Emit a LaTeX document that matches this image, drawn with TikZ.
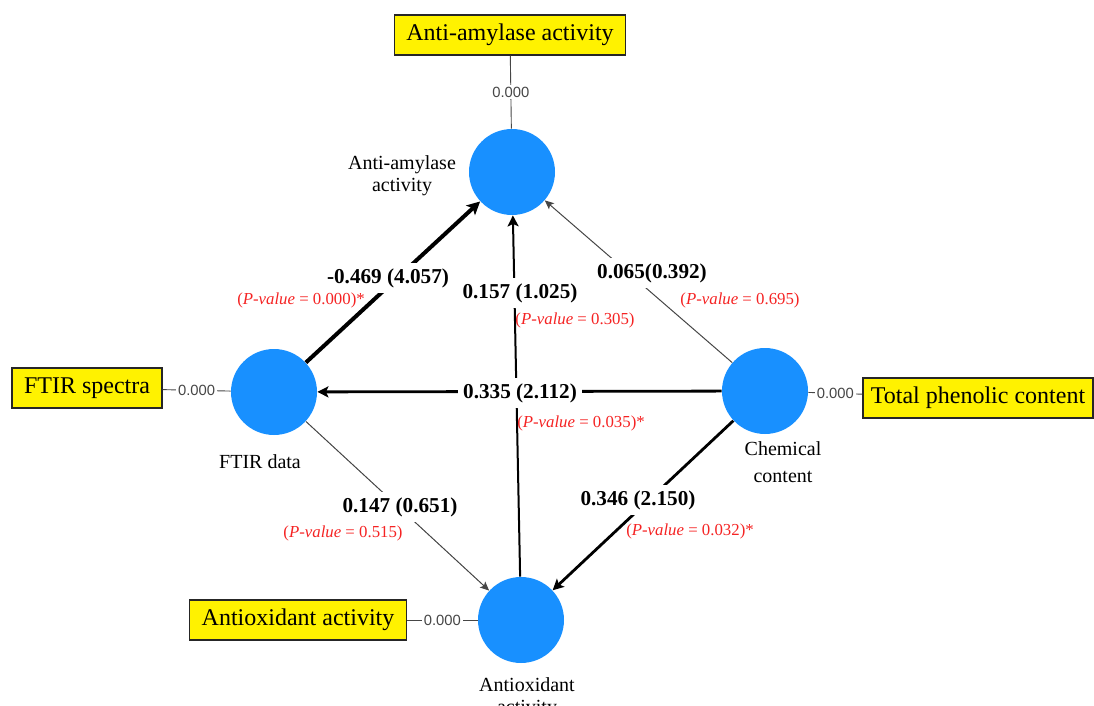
\documentclass[tikz,border=0pt]{standalone}
\usepackage{fontspec}
\setmainfont{Liberation Serif}
\newfontfamily\smallsans{Liberation Sans}
\usetikzlibrary{arrows.meta,positioning}
\definecolor{latentblue}{RGB}{24,144,255}
\definecolor{pvalred}{RGB}{245,35,35}
\definecolor{loadgray}{RGB}{70,70,70}
\newcommand{\pvtext}[1]{(\textit{P-value} = #1)}

\begin{document}
\begin{tikzpicture}[x=0.5pt,y=-0.5pt,
  latent/.style={circle,fill=latentblue,minimum size=43pt,inner sep=0pt},
  indicator/.style={draw=black!85,line width=0.75pt,fill=yellow,font=\fontsize{12}{14}\selectfont,minimum height=20pt,inner xsep=6pt},
  latname/.style={align=center,font=\fontsize{10}{11}\selectfont},
  coef/.style={fill=white,inner sep=2.5pt,font=\fontsize{10.6}{12}\selectfont\bfseries},
  pval/.style={text=pvalred,inner sep=1pt,font=\fontsize{8.4}{10}\selectfont},
  weight/.style={fill=white,inner sep=1pt,text=loadgray,font=\smallsans\fontsize{7.4}{8}\selectfont},
  outer/.style={draw=loadgray,line width=0.45pt},
  strong/.style={-{Stealth[length=6.5pt,width=6.5pt,inset=1.5pt]},line width=2pt},
  medium/.style={-{Stealth[length=5.5pt,width=5.5pt,inset=1.2pt]},line width=1.4pt},
  weak/.style={-{Stealth[length=4.5pt,width=4pt,inset=1pt]},line width=0.5pt,draw=loadgray}]
\useasboundingbox (0,0) rectangle (1094,706);

% latent variables
\node[latent] (amyl) at (512,172) {};
\node[latent] (ftir) at (274,392) {};
\node[latent] (chem) at (765,391) {};
\node[latent] (antiox) at (521,620) {};
\node[latname] (amyl-name) at (402,176) {Anti-amylase\\activity};
\node[latname] (ftir-name) at (260,462) {FTIR data};
\node[latname,font=\fontsize{10}{13.5}\selectfont] (chem-name) at (783,462) {Chemical\\content};
\node[latname] (antiox-name) at (527,698) {Antioxidant\\activity};

% indicators
\node[indicator] (box-amyl) at (510,35) {Anti-amylase activity};
\node[indicator] (box-ftir) at (87,388) {FTIR spectra};
\node[indicator,minimum width=115pt,inner xsep=1pt] (box-tpc) at (978,398) {Total phenolic content};
\node[indicator] (box-antiox) at (298,620) {Antioxidant activity};

\draw[outer] (box-amyl) -- node[weight] {0.000} (amyl);
\draw[outer] (box-ftir) -- node[weight] {0.000} (ftir);
\draw[outer] (chem) -- node[weight] {0.000} (box-tpc);
\draw[outer] (box-antiox) -- node[weight] {0.000} (antiox);

% paths
\draw[medium,line width=1pt] (antiox) -- (amyl);
\draw[strong] (ftir) -- (amyl);
\draw[weak] (chem) -- (amyl);
\draw[medium] (chem) -- (ftir);
\draw[medium] (chem) -- (antiox);
\draw[weak] (ftir) -- (antiox);

% path coefficients
\node[coef] (c-ftir-amyl) at (388,278) {-0.469 (4.057)};
\node[pval] (p-ftir-amyl) at (301,300) {\pvtext{0.000}*};
\node[coef] (c-antiox-amyl) at (520,293) {0.157 (1.025)};
\node[pval] (p-antiox-amyl) at (575,320) {\pvtext{0.305}};
\node[coef] (c-chem-amyl) at (652,273) {0.065(0.392)};
\node[pval] (p-chem-amyl) at (740,300) {\pvtext{0.695}};
\node[coef] (c-chem-ftir) at (520,393) {0.335 (2.112)};
\node[pval] (p-chem-ftir) at (581,423) {\pvtext{0.035}*};
\node[coef] (c-ftir-antiox) at (400,507) {0.147 (0.651)};
\node[pval] (p-ftir-antiox) at (343,533) {\pvtext{0.515}};
\node[coef] (c-chem-antiox) at (638,500) {0.346 (2.150)};
\node[pval] (p-chem-antiox) at (690,531) {\pvtext{0.032}*};
\end{tikzpicture}
\end{document}
